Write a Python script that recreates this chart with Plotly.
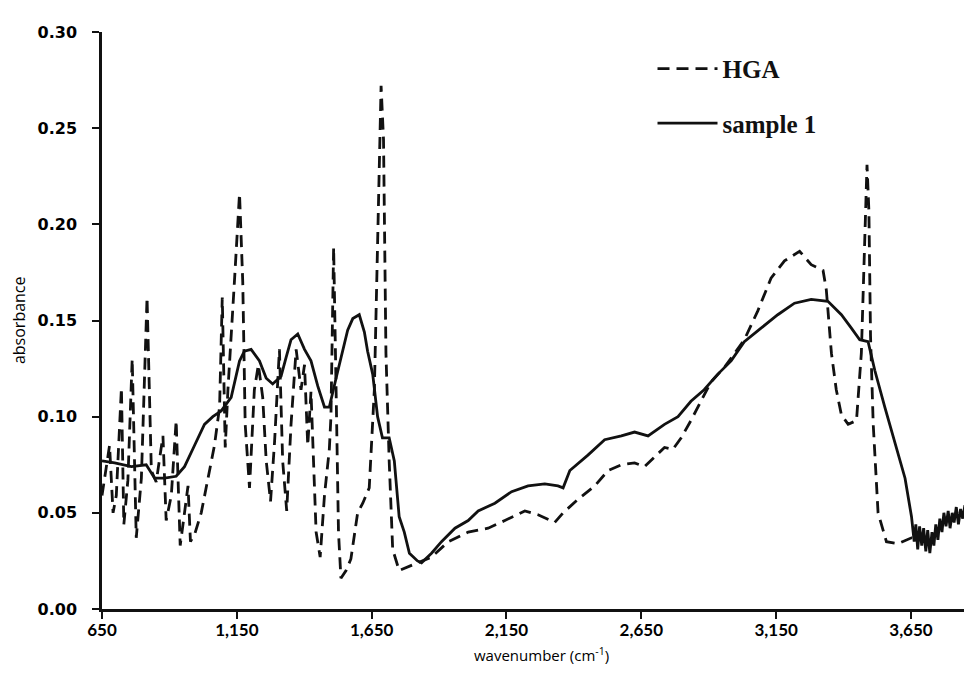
import plotly.graph_objects as go

# HGA spectrum (dashed)
hga_wn = [650, 678, 691, 703, 722, 731, 746, 762, 777, 796, 817, 833, 851, 876, 888, 907, 925, 940,
          956, 969, 978, 994, 1018, 1067, 1086, 1096, 1107, 1117, 1141, 1160, 1172, 1181, 1197, 1215,
          1230, 1246, 1259, 1275, 1290, 1308, 1320, 1335, 1351, 1370, 1388, 1401, 1413, 1425, 1444,
          1459, 1475, 1493, 1499, 1509, 1518, 1527, 1536, 1555, 1573, 1598, 1617, 1641, 1660, 1675,
          1685, 1694, 1703, 1715, 1728, 1752, 1783, 1820, 1872, 1934, 2008, 2082, 2144, 2218, 2267,
          2329, 2360, 2415, 2477, 2527, 2576, 2625, 2662, 2699, 2736, 2767, 2798, 2834, 2908, 2960,
          3032, 3082, 3131, 3181, 3237, 3280, 3324, 3336, 3355, 3373, 3392, 3417, 3448, 3466, 3479,
          3487, 3494, 3500, 3510, 3528, 3559, 3603, 3652, 3700]
hga_abs = [0.059, 0.085, 0.050, 0.059, 0.115, 0.044, 0.067, 0.130, 0.037, 0.068, 0.162, 0.072, 0.066,
           0.090, 0.046, 0.059, 0.098, 0.033, 0.050, 0.064, 0.035, 0.039, 0.050, 0.085, 0.105, 0.162,
           0.084, 0.114, 0.170, 0.216, 0.170, 0.096, 0.063, 0.114, 0.127, 0.110, 0.077, 0.056, 0.087,
           0.135, 0.077, 0.051, 0.096, 0.135, 0.114, 0.127, 0.085, 0.113, 0.040, 0.027, 0.059, 0.083,
           0.100, 0.188, 0.115, 0.040, 0.016, 0.020, 0.026, 0.050, 0.055, 0.063, 0.114, 0.207, 0.272,
           0.244, 0.133, 0.077, 0.031, 0.020, 0.022, 0.024, 0.027, 0.035, 0.040, 0.042, 0.046, 0.051,
           0.049, 0.045, 0.050, 0.057, 0.064, 0.072, 0.075, 0.076, 0.074, 0.079, 0.084, 0.083, 0.089,
           0.098, 0.118, 0.126, 0.140, 0.155, 0.172, 0.181, 0.186, 0.179, 0.176, 0.166, 0.133, 0.114,
           0.101, 0.096, 0.098, 0.133, 0.189, 0.231, 0.207, 0.142, 0.096, 0.050, 0.035, 0.034, 0.037,
           0.036]

# sample 1 spectrum (solid)
s1_wn = [650, 697, 759, 814, 845, 882, 925, 956, 993, 1030, 1061, 1092, 1129, 1160, 1178, 1203, 1234,
         1259, 1283, 1314, 1333, 1351, 1376, 1401, 1425, 1450, 1475, 1493, 1518, 1549, 1561, 1580,
         1604, 1623, 1635, 1654, 1672, 1690, 1715, 1734, 1752, 1771, 1790, 1820, 1835, 1872, 1909,
         1959, 2008, 2045, 2107, 2169, 2230, 2292, 2341, 2360, 2385, 2452, 2514, 2576, 2625, 2675,
         2736, 2786, 2834, 2883, 2933, 2983, 3032, 3094, 3156, 3218, 3280, 3342, 3392, 3429, 3460,
         3491, 3516, 3553, 3590, 3628, 3652, 3662, 3668, 3675, 3682, 3690, 3697, 3705, 3712, 3720,
         3728, 3735, 3742, 3750, 3757, 3765, 3772, 3780, 3788, 3795, 3803, 3810, 3818, 3826, 3834,
         3842, 3850, 3858, 3866, 3874, 3882, 3890, 3898, 3906]
s1_abs = [0.077, 0.076, 0.074, 0.075, 0.068, 0.068, 0.069, 0.074, 0.085, 0.096, 0.100, 0.103, 0.110,
          0.129, 0.134, 0.135, 0.129, 0.120, 0.117, 0.121, 0.131, 0.140, 0.143, 0.135, 0.129, 0.116,
          0.105, 0.105, 0.120, 0.139, 0.145, 0.151, 0.153, 0.144, 0.134, 0.122, 0.100, 0.089, 0.089,
          0.077, 0.048, 0.040, 0.029, 0.025, 0.024, 0.029, 0.035, 0.042, 0.046, 0.051, 0.055, 0.061,
          0.064, 0.065, 0.064, 0.063, 0.072, 0.080, 0.088, 0.090, 0.092, 0.090, 0.096, 0.100, 0.108,
          0.114, 0.122, 0.129, 0.139, 0.146, 0.153, 0.159, 0.161, 0.160, 0.153, 0.146, 0.140, 0.139,
          0.124, 0.105, 0.087, 0.068, 0.048, 0.035, 0.044, 0.031, 0.043, 0.033, 0.042, 0.030, 0.041,
          0.029, 0.040, 0.033, 0.044, 0.036, 0.047, 0.040, 0.050, 0.043, 0.051, 0.042, 0.050, 0.045,
          0.053, 0.044, 0.052, 0.047, 0.054, 0.048, 0.055, 0.050, 0.056, 0.051, 0.058, 0.055]

x_ticks = [650, 1150, 1650, 2150, 2650, 3150, 3650]
x_tick_labels = ["650", "1,150", "1,650", "2,150", "2,650", "3,150", "3,650"]
y_ticks = [0.00, 0.05, 0.10, 0.15, 0.20, 0.25, 0.30]
x_title = "wavenumber (cm<sup>-1</sup>)"
y_title = "absorbance"

fig = go.Figure()
fig.add_trace(go.Scatter(x=hga_wn, y=hga_abs, mode="lines", name="HGA", legendgroup="a",
                         line=dict(color="#111111", width=2.8, dash="12px,7px")))
fig.add_trace(go.Scatter(x=s1_wn, y=s1_abs, mode="lines", name="sample 1", legendgroup="b",
                         line=dict(color="#111111", width=2.8)))

fig.update_layout(
    template="none",
    width=972, height=674,
    margin=dict(l=94, r=0, t=24, b=73),
    font=dict(family="Open Sans", size=16, color="#000000"),
    plot_bgcolor="white", paper_bgcolor="white",
    showlegend=True,
    legend=dict(x=0.627, y=0.976, xanchor="left", yanchor="top",
                font=dict(family="Liberation Serif", size=25, color="#111111", weight="bold"),
                itemwidth=60, tracegroupgap=19, bgcolor="rgba(0,0,0,0)"),
)
fig.update_xaxes(range=[650, 3906], tickvals=x_ticks, ticktext=x_tick_labels,
                 showgrid=False, zeroline=False, showline=True, linecolor="#111111", linewidth=2.5,
                 ticks="outside", ticklen=7, tickwidth=2, tickcolor="#111111",
                 ticklabelstandoff=-3,
                 tickfont=dict(family="Lato", size=17, color="#000000", weight="bold"))
fig.update_yaxes(range=[0, 0.30], tickvals=y_ticks, tickformat=".2f",
                 showgrid=False, zeroline=False, showline=True, linecolor="#111111", linewidth=2.5,
                 ticks="outside", ticklen=7, tickwidth=2, tickcolor="#111111",
                 ticklabelstandoff=12,
                 tickfont=dict(family="DejaVu Sans", size=16, color="#000000", weight="bold"))

# axis titles as annotations
fig.add_annotation(text=x_title, xref="paper", yref="paper", x=0.5, y=-0.079,
                   xanchor="center", yanchor="middle", showarrow=False,
                   font=dict(family="Open Sans", size=15, color="#000000"))
fig.add_annotation(text=y_title, xref="paper", yref="paper", x=-0.095, y=0.5,
                   xanchor="center", yanchor="middle", textangle=-90, showarrow=False,
                   font=dict(family="Open Sans", size=16, color="#000000"))

fig.write_html("out.html")
